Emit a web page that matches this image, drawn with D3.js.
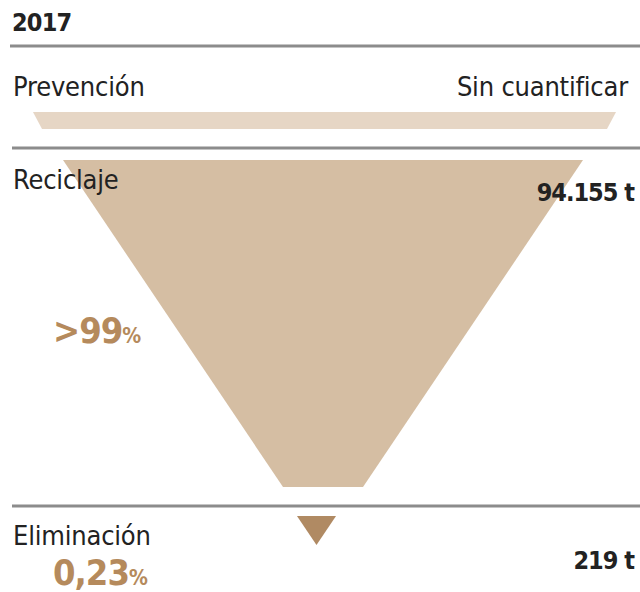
<!DOCTYPE html>
<html>
<head>
<meta charset="utf-8">
<script src="https://cdn.jsdelivr.net/npm/d3@7"></script>
<style>
  body { margin: 0; background: #fff; }
  svg { display: block; }
  text { font-family: "DejaVu Sans Condensed", "Liberation Sans Narrow", sans-serif; }
</style>
</head>
<body>
<div id="chart"></div>
<script>
// Data
const year = "2017";
const stages = ["Prevención", "Reciclaje", "Eliminación"];
const tonnes = [null, 94155, 219];
const tonneLabels = ["Sin cuantificar", "94.155 t", "219 t"];
const shares = [null, ">99", "0,23"];

const width = 640, height = 592;

const svg = d3.select("#chart").append("svg")
    .attr("width", width)
    .attr("height", height);

// Funnel width scale (tonnes -> pixel width)
const widthScale = d3.scalePow().exponent(0.427)
    .domain([0, d3.max(tonnes)])
    .range([0, 520]);

const cx = 323;
const funnelColor = ["#e6d6c5", "#d5bea3", "#b08a63"];

// Title
svg.append("text")
    .attr("x", 12).attr("y", 31)
    .attr("font-size", 25).attr("font-weight", "bold")
    .attr("letter-spacing", -0.8)
    .attr("fill", "#222")
    .text(year);

// separator lines
[46, 148, 506].forEach((y, i) => {
    svg.append("line")
        .attr("x1", i === 0 ? 10 : 12).attr("x2", width)
        .attr("y1", y).attr("y2", y)
        .attr("stroke", "#8c8c8c").attr("stroke-width", 3);
});

// Prevención band (sin cuantificar)
svg.append("path")
    .attr("d", `M33,112 L616,112 L607,129 L42,129 Z`)
    .attr("fill", funnelColor[0]);

// Reciclaje trapezoid
const topW = widthScale(tonnes[1]);
const botW = 80;
svg.append("path")
    .attr("d", `M${cx - topW / 2},160 L${cx + topW / 2},160 L${cx + botW / 2},487 L${cx - botW / 2},487 Z`)
    .attr("fill", funnelColor[1]);

// Eliminación triangle
const triW = widthScale(tonnes[2]);
svg.append("path")
    .attr("d", `M${316.5 - triW / 2},516 L${316.5 + triW / 2},516 L316.5,545 Z`)
    .attr("fill", funnelColor[2]);

// Stage labels
const labelY = [96, 189, 545];
stages.forEach((s, i) => {
    svg.append("text")
        .attr("x", 13).attr("y", labelY[i])
        .attr("font-size", 27).attr("fill", "#222")
        .attr("letter-spacing", -0.2)
        .text(s);
});

// Tonne labels
svg.append("text")
    .attr("x", 628).attr("y", 96)
    .attr("text-anchor", "end")
    .attr("font-size", 27).attr("fill", "#222")
    .attr("letter-spacing", -0.2)
    .text(tonneLabels[0]);

const tY = [null, 201, 569];
[1, 2].forEach(i => {
    svg.append("text")
        .attr("x", 634).attr("y", tY[i])
        .attr("text-anchor", "end")
        .attr("font-size", 25).attr("font-weight", "bold").attr("fill", "#222")
        .attr("letter-spacing", -1)
        .text(tonneLabels[i]);
});

// Shares
const sY = [null, 343, 585];
[1, 2].forEach(i => {
    const t = svg.append("text")
        .attr("x", 53).attr("y", sY[i])
        .attr("font-weight", "bold").attr("fill", "#b58a5c");
    t.append("tspan").attr("font-size", 36).attr("letter-spacing", -1).text(shares[i]);
    t.append("tspan").attr("font-size", 21).text("%");
});
</script>
</body>
</html>
